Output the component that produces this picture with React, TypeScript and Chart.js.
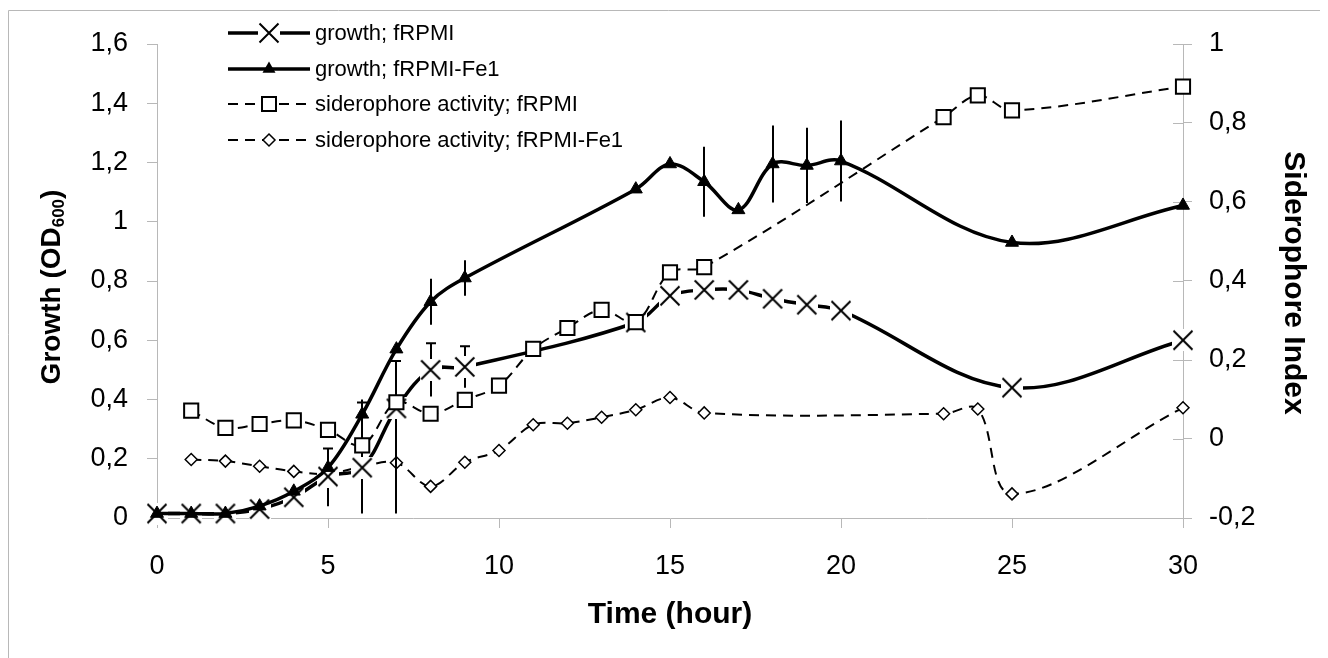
import React, { useEffect, useRef } from 'react';
import { Chart, registerables } from 'chart.js';

Chart.register(...registerables);

// ---- data ----
const growthTimes = [0, 1, 2, 3, 4, 5, 6, 7, 8, 9, 14, 15, 16, 17, 18, 19, 20, 25, 30];
const growthRPMI = [0.015, 0.015, 0.015, 0.03, 0.07, 0.14, 0.17, 0.37, 0.5, 0.51, 0.66, 0.75, 0.77, 0.77, 0.74, 0.72, 0.7, 0.44, 0.6];
const growthRPMIErrUp = [0, 0, 0, 0, 0, 0.095, 0.22, 0.16, 0.09, 0.07, 0, 0, 0, 0, 0, 0, 0, 0, 0];
const growthRPMIErrDown = [0, 0, 0, 0, 0, 0.1, 0.155, 0.355, 0.09, 0.07, 0, 0, 0, 0, 0, 0, 0, 0, 0];
const growthFe1 = [0.015, 0.015, 0.015, 0.04, 0.09, 0.17, 0.35, 0.57, 0.73, 0.81, 1.11, 1.195, 1.135, 1.04, 1.195, 1.19, 1.205, 0.93, 1.055];
const growthFe1Err = [0, 0, 0, 0, 0, 0, 0.05, 0, 0.078, 0.06, 0, 0, 0.118, 0, 0.13, 0.127, 0.137, 0, 0];

const sideroTimes = [1, 2, 3, 4, 5, 6, 7, 8, 9, 10, 11, 12, 13, 14, 15, 16, 23, 24, 25, 30];
const sideroRPMI = [0.072, 0.028, 0.038, 0.047, 0.023, -0.016, 0.093, 0.064, 0.099, 0.135, 0.228, 0.281, 0.327, 0.296, 0.422, 0.435, 0.815, 0.87, 0.832, 0.892];
const sideroFe1 = [-0.052, -0.056, -0.069, -0.082, -0.088, -0.07, -0.06, -0.12, -0.059, -0.029, 0.036, 0.04, 0.055, 0.074, 0.105, 0.066, 0.064, 0.076, -0.139, 0.079];

const xTicks = [0, 5, 10, 15, 20, 25, 30];
const leftTicks = [0, 0.2, 0.4, 0.6, 0.8, 1, 1.2, 1.4, 1.6];
const rightTicks = [-0.2, 0, 0.2, 0.4, 0.6, 0.8, 1];

const legendLabels = [
  'growth; fRPMI',
  'growth; fRPMI-Fe1',
  'siderophore activity; fRPMI',
  'siderophore activity; fRPMI-Fe1',
];
const xTitle = 'Time (hour)';
const leftTitleMain = 'Growth (OD';
const leftTitleSub = '600';
const leftTitleEnd = ')';
const rightTitle = 'Siderophore Index';

// ---- styles ----
const FONT = '"Liberation Sans", Arial, Helvetica, sans-serif';
const GRAY = '#b8b8b8';
const W = 1320;
const H = 650;

function fmt(v: number): string {
  const r = Math.round(v * 10) / 10;
  return String(r).replace('.', ',');
}

function makeXMarker(): HTMLCanvasElement {
  const s = 22;
  const c = document.createElement('canvas');
  c.width = s;
  c.height = s;
  const g = c.getContext('2d')!;
  g.fillStyle = '#ffffff';
  g.fillRect(0, 0, s, s);
  g.strokeStyle = '#000';
  g.lineWidth = 2;
  g.beginPath();
  g.moveTo(1.5, 1.5);
  g.lineTo(s - 1.5, s - 1.5);
  g.moveTo(s - 1.5, 1.5);
  g.lineTo(1.5, s - 1.5);
  g.stroke();
  return c;
}

export default function App() {
  const ref = useRef<HTMLCanvasElement | null>(null);

  useEffect(() => {
    const canvas = ref.current;
    if (!canvas) return;
    const xMarker = makeXMarker();

    const errPlugin = {
      id: 'errbars',
      beforeDatasetDraw(chart: any, args: any) {
        const ctx = chart.ctx;
        const idx = args.index;
        const xs = chart.scales.x;
        const yl = chart.scales.yL;
        ctx.save();
        ctx.strokeStyle = '#000';
        ctx.lineWidth = 2;
        if (idx === 0) {
          growthTimes.forEach((t, i) => {
            const up = growthRPMIErrUp[i];
            const dn = growthRPMIErrDown[i];
            if (!up && !dn) return;
            const px = Math.round(xs.getPixelForValue(t));
            const y1 = yl.getPixelForValue(growthRPMI[i] + up);
            const y2 = yl.getPixelForValue(growthRPMI[i] - dn);
            ctx.beginPath();
            ctx.moveTo(px, y1);
            ctx.lineTo(px, y2);
            ctx.moveTo(px - 5, y1);
            ctx.lineTo(px + 5, y1);
            ctx.stroke();
          });
        }
        if (idx === 1) {
          growthTimes.forEach((t, i) => {
            const e = growthFe1Err[i];
            if (!e) return;
            const px = Math.round(xs.getPixelForValue(t));
            ctx.beginPath();
            ctx.moveTo(px, yl.getPixelForValue(growthFe1[i] + e));
            ctx.lineTo(px, yl.getPixelForValue(growthFe1[i] - e));
            ctx.stroke();
          });
        }
        ctx.restore();
      },
    };

    const decoPlugin = {
      id: 'deco',
      beforeDraw(chart: any) {
        const ctx = chart.ctx;
        ctx.save();
        ctx.fillStyle = '#fff';
        ctx.fillRect(0, 0, W, H);
        ctx.strokeStyle = GRAY;
        ctx.lineWidth = 1;
        ctx.beginPath();
        ctx.moveTo(0.5, H);
        ctx.lineTo(0.5, 2.5);
        ctx.lineTo(W, 2.5);
        ctx.stroke();
        ctx.restore();
      },
      beforeDatasetsDraw(chart: any) {
        const ctx = chart.ctx;
        const yr = chart.scales.yR;
        const right = chart.chartArea.right;
        ctx.save();
        ctx.strokeStyle = GRAY;
        ctx.lineWidth = 1;
        ctx.beginPath();
        rightTicks.forEach((v) => {
          const py = Math.round(yr.getPixelForValue(v)) + 0.5;
          ctx.moveTo(right - 10, py);
          ctx.lineTo(right, py);
        });
        ctx.stroke();
        ctx.restore();
      },
      afterDraw(chart: any) {
        const ctx = chart.ctx;
        const ca = chart.chartArea;
        ctx.save();
        ctx.fillStyle = '#000';
        // x title
        ctx.font = `bold 30px ${FONT}`;
        ctx.textAlign = 'center';
        ctx.textBaseline = 'middle';
        ctx.fillText(xTitle, (ca.left + ca.right) / 2, 607);
        // right title
        ctx.save();
        ctx.translate(1285, (ca.top + ca.bottom) / 2 + 2);
        ctx.rotate(Math.PI / 2);
        ctx.fillText(rightTitle, 0, 0);
        ctx.restore();
        // left title with subscript
        ctx.save();
        ctx.translate(42, (ca.top + ca.bottom) / 2 + 6);
        ctx.rotate(-Math.PI / 2);
        ctx.textAlign = 'left';
        ctx.textBaseline = 'alphabetic';
        const mainFont = `bold 28px ${FONT}`;
        const subFont = `bold 17px ${FONT}`;
        ctx.font = mainFont;
        const w1 = ctx.measureText(leftTitleMain).width;
        const w3 = ctx.measureText(leftTitleEnd).width;
        ctx.font = subFont;
        const w2 = ctx.measureText(leftTitleSub).width;
        const total = w1 + w2 + w3;
        let x0 = -total / 2;
        const base = 10;
        ctx.font = mainFont;
        ctx.fillText(leftTitleMain, x0, base);
        x0 += w1;
        ctx.font = subFont;
        ctx.fillText(leftTitleSub, x0, base + 4);
        x0 += w2;
        ctx.font = mainFont;
        ctx.fillText(leftTitleEnd, x0, base);
        ctx.restore();

        // legend
        const rowsY = [25, 61, 96, 132];
        const lx1 = 220;
        const lx2 = 302;
        const mx = 261;
        rowsY.forEach((y, i) => {
          ctx.save();
          ctx.strokeStyle = '#000';
          if (i < 2) {
            ctx.lineWidth = 3.5;
            ctx.setLineDash([]);
          } else {
            ctx.lineWidth = 2;
            ctx.setLineDash([10, 7]);
          }
          ctx.beginPath();
          ctx.moveTo(lx1, y);
          ctx.lineTo(lx2, y);
          ctx.stroke();
          ctx.setLineDash([]);
          if (i === 0) {
            ctx.drawImage(xMarker, mx - 11, y - 11);
          } else if (i === 1) {
            const r = 7.5;
            ctx.fillStyle = '#000';
            ctx.beginPath();
            ctx.moveTo(mx, y - r);
            ctx.lineTo(mx + r * 0.866, y + r * 0.5);
            ctx.lineTo(mx - r * 0.866, y + r * 0.5);
            ctx.closePath();
            ctx.fill();
          } else if (i === 2) {
            ctx.fillStyle = '#fff';
            ctx.lineWidth = 2;
            ctx.fillRect(mx - 7, y - 7, 14, 14);
            ctx.strokeRect(mx - 7, y - 7, 14, 14);
          } else {
            ctx.fillStyle = '#fff';
            ctx.lineWidth = 1.5;
            ctx.beginPath();
            ctx.moveTo(mx, y - 6);
            ctx.lineTo(mx + 6, y);
            ctx.lineTo(mx, y + 6);
            ctx.lineTo(mx - 6, y);
            ctx.closePath();
            ctx.fill();
            ctx.stroke();
          }
          ctx.fillStyle = '#000';
          ctx.font = `22px ${FONT}`;
          ctx.textAlign = 'left';
          ctx.textBaseline = 'middle';
          ctx.fillText(legendLabels[i], 307, y + 1);
          ctx.restore();
        });
        ctx.restore();
      },
    };

    const tickFont = { family: FONT, size: 27 };

    const chart = new Chart(canvas, {
      type: 'line',
      data: {
        datasets: [
          {
            label: legendLabels[0],
            data: growthTimes.map((t, i) => ({ x: t, y: growthRPMI[i] })),
            yAxisID: 'yL',
            borderColor: '#000',
            borderWidth: 3.5,
            pointStyle: xMarker as any,
            pointRadius: 11,
            tension: 0.35,
            clip: false as any,
            order: 3,
          },
          {
            label: legendLabels[1],
            data: growthTimes.map((t, i) => ({ x: t, y: growthFe1[i] })),
            yAxisID: 'yL',
            borderColor: '#000',
            backgroundColor: '#000',
            borderWidth: 3.5,
            pointStyle: 'triangle',
            pointRadius: 7.5,
            pointBorderWidth: 1,
            pointBackgroundColor: '#000',
            pointBorderColor: '#000',
            tension: 0.35,
            clip: false as any,
            order: 2,
          },
          {
            label: legendLabels[2],
            data: sideroTimes.map((t, i) => ({ x: t, y: sideroRPMI[i] })),
            yAxisID: 'yR',
            borderColor: '#000',
            borderWidth: 2,
            borderDash: [10, 7],
            pointStyle: 'rect',
            pointRadius: 10,
            pointBorderWidth: 2,
            pointBackgroundColor: '#fff',
            pointBorderColor: '#000',
            tension: 0.35,
            clip: false as any,
            order: 1,
          },
          {
            label: legendLabels[3],
            data: sideroTimes.map((t, i) => ({ x: t, y: sideroFe1[i] })),
            yAxisID: 'yR',
            borderColor: '#000',
            borderWidth: 2,
            borderDash: [10, 7],
            pointStyle: 'rectRot',
            pointRadius: 6,
            pointBorderWidth: 1.5,
            pointBackgroundColor: '#fff',
            pointBorderColor: '#000',
            tension: 0.35,
            clip: false as any,
            order: 4,
          },
        ],
      },
      options: {
        responsive: false,
        animation: false,
        events: [],
        layout: { padding: { top: 36, left: 0, right: 0, bottom: 0 } },
        plugins: { legend: { display: false }, tooltip: { enabled: false }, title: { display: false } },
        scales: {
          x: {
            type: 'linear',
            position: 'bottom',
            min: 0,
            max: 30,
            afterBuildTicks: (s: any) => {
              s.ticks = xTicks.map((v) => ({ value: v }));
            },
            afterFit: (s: any) => {
              s.height = 140;
            },
            ticks: { font: tickFont, color: '#000', padding: 22, maxRotation: 0, autoSkip: false, callback: (v: any) => fmt(Number(v)) },
            grid: { drawOnChartArea: false, drawTicks: true, tickLength: 10, color: GRAY, lineWidth: 1 },
            border: { display: true, color: GRAY, width: 1 },
          },
          yL: {
            type: 'linear',
            position: 'left',
            min: 0,
            max: 1.6,
            afterBuildTicks: (s: any) => {
              s.ticks = leftTicks.map((v) => ({ value: v }));
            },
            afterFit: (s: any) => {
              s.width = 149;
            },
            ticks: { font: tickFont, color: '#000', padding: 19, autoSkip: false, callback: (v: any) => fmt(Number(v)) },
            grid: { drawOnChartArea: false, drawTicks: true, tickLength: 10, color: GRAY, lineWidth: 1 },
            border: { display: true, color: GRAY, width: 1 },
          },
          yR: {
            type: 'linear',
            position: 'right',
            min: -0.2,
            max: 1,
            afterBuildTicks: (s: any) => {
              s.ticks = rightTicks.map((v) => ({ value: v }));
            },
            afterFit: (s: any) => {
              s.width = 145;
            },
            ticks: { font: tickFont, color: '#000', padding: 17, autoSkip: false, callback: (v: any) => fmt(Number(v)) },
            grid: { drawOnChartArea: false, drawTicks: true, tickLength: 9, color: GRAY, lineWidth: 1 },
            border: { display: true, color: GRAY, width: 1 },
          },
        },
      } as any,
      plugins: [decoPlugin, errPlugin],
    });

    return () => {
      chart.destroy();
    };
  }, []);

  return (
    <div style={{ width: W, height: H }}>
      <canvas ref={ref} width={W} height={H} style={{ display: 'block', width: W, height: H }} />
    </div>
  );
}
